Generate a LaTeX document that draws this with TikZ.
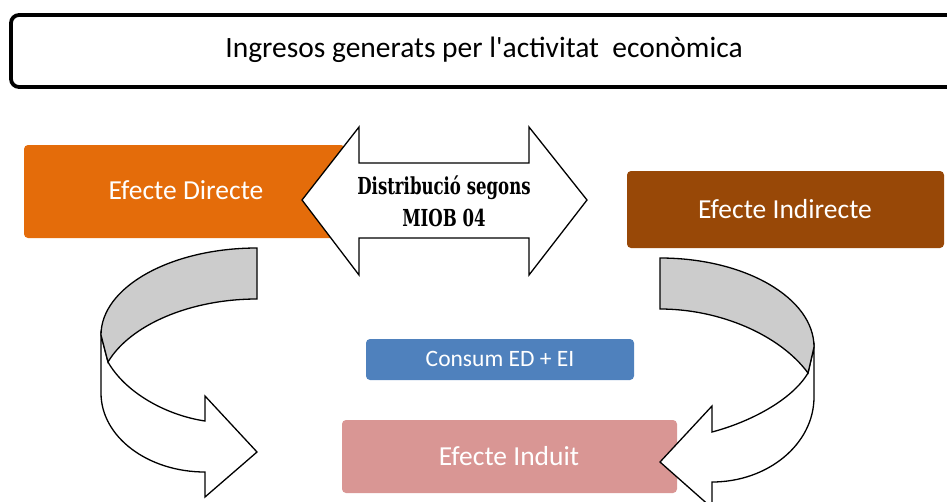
\documentclass[tikz,border=0pt]{standalone}
\usepackage{fontspec}
\newfontfamily\carlito{Carlito}
\newfontfamily\dserif{DejaVu Serif}
\definecolor{orangeD}{HTML}{E46C0A}
\definecolor{brownI}{HTML}{984807}
\definecolor{blueC}{HTML}{4F81BD}
\definecolor{pinkI}{HTML}{D99694}
\definecolor{grayband}{HTML}{CCCCCC}
\newcommand{\disttxt}[1]{\scalebox{0.92}[1.3]{\dserif\bfseries\fontsize{18}{32}\selectfont #1}}
\tikzset{
  effbox/.style={rounded corners=4pt, draw=none},
  efftext/.style={text=white, font=\carlito\fontsize{27.5}{32}\selectfont, inner sep=0pt},
  outl/.style={draw=black, line width=1.3pt, line join=miter},
  disttext/.style={inner sep=0pt, anchor=base},
}
\begin{document}
\begin{tikzpicture}[x=1pt,y=-1pt]
\useasboundingbox (0,0) rectangle (947,501);
\clip (0,0) rectangle (947,501);
% title box
\draw[line width=3.8pt, rounded corners=8pt] (11,15) rectangle (975,87);
\node[inner sep=0pt, font=\carlito\fontsize{29.5}{32}\selectfont] (title) at (484,50) {Ingresos generats per l\textquotesingle activitat~ econòmica};
% boxes
\fill[effbox, orangeD] (24,145) rectangle (345,238);
\node[efftext] (ed) at (186,190) {Efecte Directe};
\fill[effbox, brownI] (627,171) rectangle (944,248);
\node[efftext] (ei) at (785,209) {Efecte Indirecte};
\fill[effbox, blueC] (366,339) rectangle (634,380);
\node[efftext, font=\carlito\fontsize{23.5}{28}\selectfont] (cons) at (500,359) {Consum ED + EI};
\fill[effbox, pinkI] (342,420) rectangle (677,493);
\node[efftext] (ind) at (509,456) {Efecte Induit};
% double arrow
\draw[outl, fill=white] (302,200) -- (359,127) -- (359,163) -- (529,163) -- (529,127) -- (587,200)
  -- (529,275) -- (529,238) -- (359,238) -- (359,275) -- cycle;
\node[disttext] (dist1) at (444,194) {\disttxt{Distribució segons}};
\node[disttext] (dist2) at (444,226) {\disttxt{MIOB 04}};
% left curved arrow
\draw[outl, fill=white] (101,335) -- (101,393) .. controls (101,437) and (148,472) .. (205,472)
  -- (205,497) -- (257,452) -- (205,396) -- (205,421)
  .. controls (165,415) and (125,392) .. (108,362) -- cycle;
\draw[outl, fill=grayband] (257,248) .. controls (171,248) and (101,287) .. (101,335)
  -- (108,362) .. controls (130,325) and (190,299) .. (257,299) -- cycle;
% right curved arrow
\draw[outl, fill=white] (814,347) -- (814,397) .. controls (814,444) and (768,482) .. (712,482)
  -- (712,508) -- (660,462) -- (712,406) -- (712,432)
  .. controls (750,422) and (792,400) .. (808,373) -- cycle;
\draw[outl, fill=grayband] (660,258) .. controls (745,258) and (814,298) .. (814,347)
  -- (808,373) .. controls (780,335) and (720,309) .. (660,309) -- cycle;
\end{tikzpicture}
\end{document}
